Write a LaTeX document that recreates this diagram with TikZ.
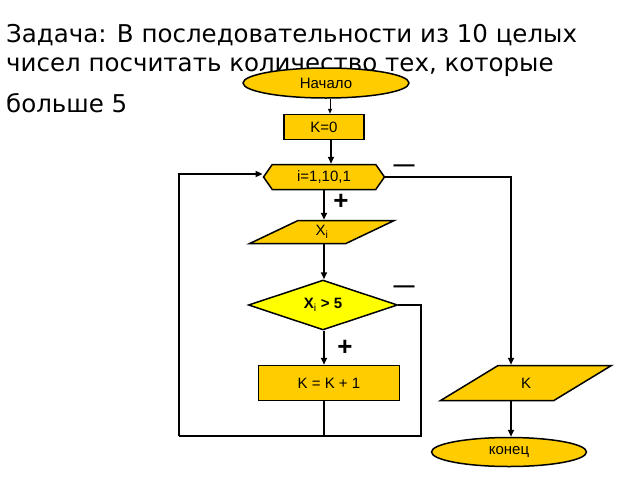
\documentclass[tikz,border=0pt]{standalone}
\usepackage{fontspec}
\setmainfont{Liberation Sans}
\newfontfamily\titlefont{DejaVu Sans}
\usetikzlibrary{shapes.geometric,shapes.symbols,arrows.meta}
\definecolor{gold}{RGB}{255,204,0}
\definecolor{yel}{RGB}{255,255,0}
\begin{document}
\begin{tikzpicture}[x=1pt,y=-1pt,
  box/.style={draw,line width=1.5pt,fill=gold,font=\fontsize{15}{17}\selectfont,inner sep=0pt},
  ln/.style={line width=2pt},
  arr/.style={line width=2pt,-{Triangle[length=7pt,width=6pt]}},
  title/.style={font=\titlefont\fontsize{24.5}{28}\selectfont,anchor=base west,inner sep=0pt},
  sign/.style={font=\bfseries\fontsize{26}{28}\selectfont,inner sep=0pt},
  minus/.style={font=\bfseries\fontsize{21}{24}\selectfont,inner sep=0pt}]
\useasboundingbox (0,0) rectangle (640,480);
\node[title] (t1) at (6,42) {Задача: В последовательности из 10 целых};
\node[title] (t2) at (6,71) {чисел посчитать количество тех, которые};
\node[title] (t3) at (6,112) {больше 5};
\node[box,ellipse,minimum width=166pt,minimum height=30pt] (start) at (326,83) {Начало};
\node[box,rectangle,minimum width=80pt,minimum height=25pt] (k0) at (324,127) {K=0};
\node[box,signal,signal to=west and east,signal pointer angle=110,minimum width=121pt,minimum height=25pt] (hex) at (324,177) {i=1,10,1};
\node[box,trapezium,trapezium left angle=45,trapezium right angle=135,minimum width=145pt,minimum height=23pt,trapezium stretches=true] (xi) at (322,232) {X$_\mathrm{i}$};
\node[box,diamond,fill=yel,minimum width=149pt,minimum height=50pt,aspect=2.9,font=\bfseries\fontsize{15}{17}\selectfont] (dia) at (323,305) {X$_\mathrm{i}$ > 5};
\node[box,rectangle,minimum width=141pt,minimum height=35pt] (inc) at (329,383) {K = K + 1};
\node[box,trapezium,trapezium left angle=45,trapezium right angle=135,minimum width=171pt,minimum height=35pt,trapezium stretches=true] (outk) at (526,383) {K};
\node[box,ellipse,minimum width=155pt,minimum height=29pt] (end) at (509,452) {конец};
\coordinate (bl) at (179,436);
\coordinate (br) at (421,436);
\draw[line width=1pt,-{Triangle[length=5pt,width=4pt]}] (start.south -| 330,0) -- (k0.north -| 330,0);
\draw[arr] (k0.south -| 331,0) -- (hex.north -| 331,0);
\draw[arr] (hex.south -| 324,0) -- (xi.north -| 324,0);
\draw[arr] (xi.south -| 324,0) -- (dia.north -| 324,0);
\draw[arr] (dia.south -| 324,0) -- (inc.north -| 324,0);
\draw[ln] (inc.south -| 324,0) -- (324,436);
\draw[ln] (dia.east) -| (br) -- (bl);
\draw[arr] (bl) -- (179,174) -- (hex.west |- 0,174);
\draw[arr] (hex.east) -| (outk.north -| 511,0);
\draw[arr] (outk.south -| 511,0) -- (end.north -| 511,0);
\node[minus] (m1) at (404,168) {—};
\node[sign] (p1) at (341,202) {+};
\node[minus] (m2) at (404,289) {—};
\node[sign] (p2) at (345,348) {+};
\end{tikzpicture}
\end{document}
